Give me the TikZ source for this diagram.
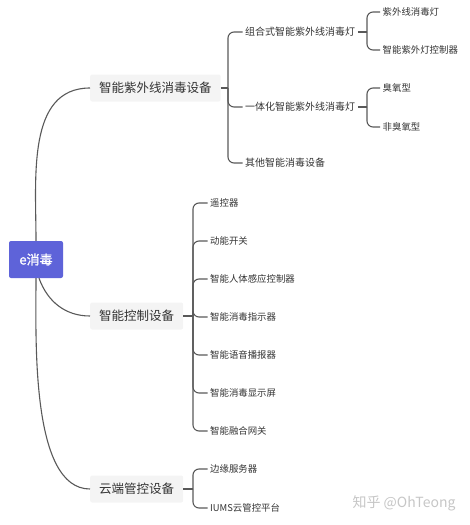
\documentclass[tikz,border=0pt]{standalone}
\usepackage{fontspec}
\setmainfont{Noto Sans CJK SC}
\newfontfamily\rootfont{Noto Sans CJK SC}[FakeBold=1.2]
\usepackage{tikz}
\usetikzlibrary{positioning}
\definecolor{rootblue}{HTML}{5E63D9}
\definecolor{boxgray}{HTML}{F4F4F4}
\definecolor{linegray}{HTML}{595959}
\definecolor{textgray}{HTML}{333333}
\definecolor{markgray}{HTML}{C6C6C6}
\tikzset{
  % noder
  rootn/.style={rectangle,rounded corners=2pt,fill=rootblue,text=white,
                minimum width=54pt,minimum height=37pt,inner sep=0pt,
                font=\rootfont\fontsize{13}{15}\selectfont},
  topic/.style={rectangle,rounded corners=2pt,fill=boxgray,text=textgray,
                anchor=west,inner xsep=9pt,minimum height=27pt,
                font=\fontsize{12.5}{14}\selectfont},
  sub/.style={anchor=west,inner sep=2.5pt,text=textgray,
              font=\fontsize{10}{12}\selectfont},
  leaf/.style={anchor=west,inner sep=2.5pt,text=textgray,
               font=\fontsize{9.4}{11}\selectfont},
  % linjer
  conn/.style={draw=linegray,line width=1.1pt},
  brk/.style={conn,rounded corners=6pt},
}
\begin{document}
\begin{tikzpicture}[x=1pt,y=-1pt]
\useasboundingbox (0,0) rectangle (470,525);
  \node[rootn] (root) at (36,259.5) {e消毒};
  \node[topic] (uv) at (90,88) {智能紫外线消毒设备};
  \node[topic] (ctl) at (90,316) {智能控制设备};
  \node[topic] (cloud) at (90,489) {云端管控设备};
  \draw[conn] (root.north) to[out=90,in=180] (uv.west);
  \draw[conn] ([xshift=3pt]root.south) to[out=-70,in=180] (ctl.west);
  \draw[conn] (root.south) to[out=-90,in=180,looseness=0.7] (cloud.west);
  % uv
  \coordinate (uvj) at (228,88);
  \node[sub] (comb) at (242.5,32) {组合式智能紫外线消毒灯};
  \node[sub] (integ) at (242.5,107) {一体化智能紫外线消毒灯};
  \node[sub] (other) at (242.5,163) {其他智能消毒设备};
  \draw[conn] (uv.east) -- (uvj);
  \foreach \n in {comb,integ,other}
    \draw[brk] (uvj) |- (\n.west);
  \coordinate (combj) at (367,32);
  \node[leaf] (lamp) at (380,12) {紫外线消毒灯};
  \node[leaf] (lampctl) at (380,50) {智能紫外灯控制器};
  \draw[conn] (comb.east) -- (combj);
  \foreach \n in {lamp,lampctl}
    \draw[brk] (combj) |- (\n.west);
  \coordinate (integj) at (367,107);
  \node[leaf] (ozone) at (380,88) {臭氧型};
  \node[leaf] (noozone) at (380,127) {非臭氧型};
  \draw[conn] (integ.east) -- (integj);
  \foreach \n in {ozone,noozone}
    \draw[brk] (integj) |- (\n.west);
  % styrning
  \coordinate (ctlj) at (193,316);
  \foreach \t [count=\i] in {遥控器,动能开关,智能人体感应控制器,智能消毒指示器,
      智能语音播报器,智能消毒显示屏,智能融合网关} {
    \node[leaf] (c\i) at (207.5,{165+38*\i}) {\t};
    \draw[brk] (ctlj) |- (c\i.west);
  }
  \draw[conn] (ctl.east) -- (ctlj);
  % moln
  \coordinate (cloudj) at (193,489);
  \node[leaf] (edge) at (207.5,469) {边缘服务器};
  \node[leaf] (iums) at (207.5,508) {IUMS云管控平台};
  \draw[conn] (cloud.east) -- (cloudj);
  \foreach \n in {edge,iums}
    \draw[brk] (cloudj) |- (\n.west);
  \node[text=markgray,font=\fontsize{14}{16}\selectfont] (mark) at (404,503) {知乎 @OhTeong};
\end{tikzpicture}
\end{document}
